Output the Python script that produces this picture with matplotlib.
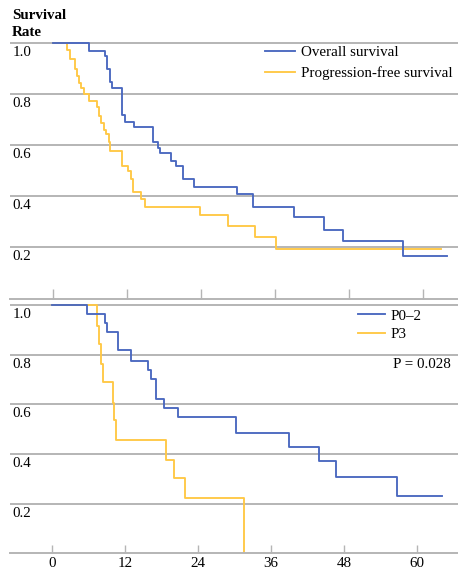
import matplotlib
matplotlib.use("Agg")
import matplotlib.pyplot as plt
import matplotlib.transforms as mtransforms

plt.rcParams['font.family'] = ['Liberation Serif', 'DejaVu Serif']

# top panel: overall vs progression-free survival (months)
os_months = [0, 5.85, 8.4, 8.7, 9.2, 9.5, 11.1, 11.6, 13.1, 16.2, 17.0, 17.4, 19.1,
             19.9, 21.1, 22.9, 29.9, 32.4, 39.1, 44.0, 47.0, 56.8, 63.9]
os_rate = [1.0, 0.970, 0.952, 0.899, 0.85, 0.825, 0.72, 0.69, 0.673, 0.614, 0.59, 0.569,
           0.539, 0.519, 0.467, 0.437, 0.409, 0.357, 0.321, 0.27, 0.227, 0.166, 0.166]

pfs_months = [0, 2.2, 2.7, 3.5, 3.9, 4.2, 4.6, 5.0, 5.8, 7.1, 7.4, 7.7, 8.3, 8.6, 9.1,
              9.2, 11.1, 12.2, 12.6, 13.0, 14.3, 14.9, 23.8, 28.4, 32.7, 36.1, 62.9]
pfs_rate = [1.0, 0.974, 0.94, 0.90, 0.87, 0.844, 0.825, 0.80, 0.773, 0.749, 0.714, 0.688,
            0.662, 0.643, 0.614, 0.578, 0.519, 0.50, 0.467, 0.416, 0.39, 0.357, 0.327,
            0.283, 0.24, 0.192, 0.192]

# bottom panel: P0-2 vs P3
p02_months = [0, 5.75, 8.75, 9.0, 10.8, 13.0, 15.8, 16.3, 17.2, 18.5, 20.7, 30.2, 39.0,
              43.9, 46.6, 56.7, 64.0]
p02_rate = [1.0, 0.965, 0.929, 0.893, 0.818, 0.775, 0.738, 0.701, 0.621, 0.585, 0.548,
            0.486, 0.43, 0.372, 0.306, 0.232, 0.232]

p3_months = [0, 7.5, 7.8, 8.1, 8.5, 10.0, 10.3, 10.6, 18.8, 20.0, 21.9, 31.6]
p3_rate = [1.0, 0.916, 0.845, 0.762, 0.691, 0.608, 0.537, 0.457, 0.378, 0.304, 0.224, 0.0]

y_ticks = [0.2, 0.4, 0.6, 0.8, 1.0]
y_labels = ["0.2", "0.4", "0.6", "0.8", "1.0"]
x_ticks = [0, 12, 24, 36, 48, 60]
x_labels = ["0", "12", "24", "36", "48", "60"]

blue = "#4a68c0"
yellow = "#ffc845"
grey = "#b5b5b5"
fs = 10.8

W, H = 458, 573
fig = plt.figure(figsize=(W / 100, H / 100), dpi=100)


def px_axes(left, top, right, bottom):
    return fig.add_axes([left / W, 1 - bottom / H, (right - left) / W, (bottom - top) / H])


def style(ax, xlim, ticklen):
    ax.set_xlim(*xlim)
    ax.set_ylim(0, 1.01)
    for s in ["top", "right", "left"]:
        ax.spines[s].set_visible(False)
    ax.spines["bottom"].set_color(grey)
    ax.spines["bottom"].set_linewidth(1.4)
    ax.set_yticks(y_ticks)
    ax.tick_params(axis="y", length=0, labelleft=False)
    ax.yaxis.grid(True, color=grey, linewidth=1.4)
    ax.set_axisbelow(True)
    ax.set_xticks(x_ticks)
    ax.tick_params(axis="x", direction="in", length=ticklen, width=1.0, color=grey)
    blend = mtransforms.blended_transform_factory(ax.transAxes, ax.transData)
    for v, lab in zip(y_ticks, y_labels):
        ax.annotate(lab, xy=(0.005, v), xycoords=blend, xytext=(0, -3),
                    textcoords="offset pixels", ha="left", va="top", fontsize=fs)


ax1 = px_axes(10, 40.7, 458, 298.5)
style(ax1, (-7.0, 65.7), 7)
ax1.tick_params(axis="x", labelbottom=False)
ax1.step(pfs_months, pfs_rate, where="post", color=yellow, lw=1.35, zorder=2,
         label="Progression-free survival")
ax1.step(os_months, os_rate, where="post", color=blue, lw=1.35, zorder=3,
         label="Overall survival")
h, l = ax1.get_legend_handles_labels()
ax1.legend(h[::-1], l[::-1], loc="upper left", bbox_to_anchor=(0.569, 0.98),
           frameon=False, fontsize=fs, borderpad=0, borderaxespad=0,
           handlelength=2.0, handletextpad=0.4, labelspacing=0.45)

ax2 = px_axes(10, 302.8, 458, 553.3)
style(ax2, (-6.85, 66.7), 5.5)
ax2.set_xticklabels(x_labels, fontsize=fs)
ax2.tick_params(axis="x", pad=3)
ax2.step(p3_months, p3_rate, where="post", color=yellow, lw=1.35, zorder=2, label="P3")
ax2.step(p02_months, p02_rate, where="post", color=blue, lw=1.35, zorder=3, label="P0–2")
h, l = ax2.get_legend_handles_labels()
ax2.legend(h[::-1], l[::-1], loc="upper left", bbox_to_anchor=(0.777, 0.975),
           frameon=False, fontsize=fs, borderpad=0, borderaxespad=0,
           handlelength=1.8, handletextpad=0.35, labelspacing=0.35)
ax2.text(0.985, 0.752, "P = 0.028", transform=ax2.transAxes, ha="right", va="center",
         fontsize=fs)

fig.text(12 / W, 1 - 24 / H, "Survival\nRate", ha="left", va="center", fontsize=fs,
         fontweight="bold", linespacing=1.4)

fig.savefig("out.png", dpi=100, facecolor="white")
